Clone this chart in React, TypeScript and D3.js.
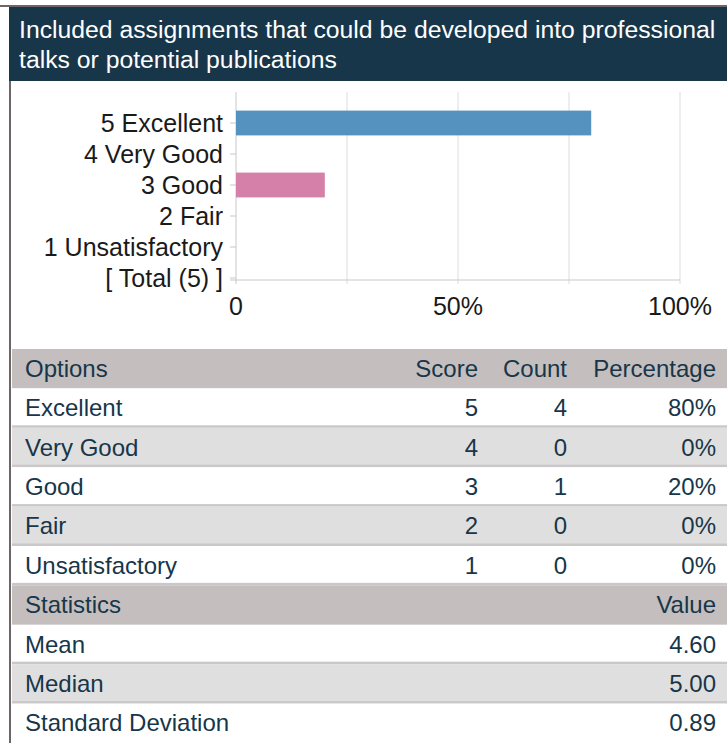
import { useEffect, useRef } from "react";
import * as d3 from "d3";

// chart values
const titleLines = [
  "Included assignments that could be developed into professional",
  "talks or potential publications",
];
const categories = [
  "5 Excellent",
  "4 Very Good",
  "3 Good",
  "2 Fair",
  "1 Unsatisfactory",
  "[ Total (5) ]",
];
const barPercent = [80, 0, 20, 0, 0, 0];
const barColors = ["#5592bf", "#7fb069", "#d580a8", "#e8a34f", "#b75d5d", "#ffffff"];
const xTicks = [0, 50, 100];
const xGrid = [0, 25, 50, 75, 100];

const options = ["Excellent", "Very Good", "Good", "Fair", "Unsatisfactory"];
const scores = [5, 4, 3, 2, 1];
const counts = [4, 0, 1, 0, 0];
const percents = [80, 0, 20, 0, 0];

const statNames = ["Mean", "Median", "Standard Deviation"];
const statValues = [4.6, 5.0, 0.89];

const W = 727;
const H = 743;
const NAVY = "#17364a";
const TEXT = "#17364a";
const FONT = "Arial, 'Liberation Sans', sans-serif";

const App = () => {
  const ref = useRef<SVGSVGElement>(null);

  useEffect(() => {
    if (!ref.current) return;
    const svg = d3.select(ref.current);
    svg.selectAll("*").remove();

    // frame
    svg.append("rect").attr("x", 0).attr("y", 0).attr("width", W).attr("height", H).attr("fill", "#fff");
    svg.append("rect").attr("x", 9).attr("y", 5).attr("width", 2).attr("height", H).attr("fill", "#6d6566");
    svg.append("rect").attr("x", 0).attr("y", 5).attr("width", W).attr("height", 2).attr("fill", "#6d6566");
    svg.append("rect").attr("x", 9).attr("y", 7).attr("width", W - 9).attr("height", 74).attr("fill", NAVY);

    svg
      .append("g")
      .selectAll("text")
      .data(titleLines)
      .join("text")
      .attr("x", 19)
      .attr("y", (_d, i) => 38 + i * 30)
      .attr("fill", "#fff")
      .attr("font-family", FONT)
      .attr("font-size", 24.75)
      .text((d) => d);

    // bar chart
    const x = d3.scaleLinear().domain([0, 100]).range([236, 680]);
    const y = d3
      .scaleBand<string>()
      .domain(categories)
      .range([107.5, 293.5])
      .paddingInner(0.2)
      .paddingOuter(0.1);
    const plotTop = 92;
    const axisY = 280;

    const chart = svg.append("g");
    chart
      .append("g")
      .selectAll("line")
      .data(xGrid)
      .join("line")
      .attr("x1", (d) => x(d))
      .attr("x2", (d) => x(d))
      .attr("y1", plotTop)
      .attr("y2", axisY + 4)
      .attr("stroke", (d) => (d === 0 ? "#c8c8c8" : "#dddddd"))
      .attr("stroke-width", 1);

    chart
      .append("line")
      .attr("x1", 230)
      .attr("x2", x(100))
      .attr("y1", axisY)
      .attr("y2", axisY)
      .attr("stroke", "#c8c8c8");

    chart
      .append("g")
      .selectAll("line")
      .data(categories)
      .join("line")
      .attr("x1", 230)
      .attr("x2", x(0))
      .attr("y1", (d) => y(d)! + y.bandwidth() / 2)
      .attr("y2", (d) => y(d)! + y.bandwidth() / 2)
      .attr("stroke", "#c8c8c8");

    chart
      .append("g")
      .selectAll("rect")
      .data(categories)
      .join("rect")
      .attr("x", x(0))
      .attr("y", (d) => y(d)!)
      .attr("width", (_d, i) => x(barPercent[i]) - x(0))
      .attr("height", y.bandwidth())
      .attr("fill", (_d, i) => barColors[i]);

    chart
      .append("g")
      .selectAll("text")
      .data(categories)
      .join("text")
      .attr("x", 223)
      .attr("y", (d) => y(d)! + y.bandwidth() / 2 + 8.5)
      .attr("text-anchor", "end")
      .attr("fill", "#1a1a1a")
      .attr("font-family", FONT)
      .attr("font-size", 25)
      .text((d) => d);

    chart
      .append("g")
      .selectAll("text")
      .data(xTicks)
      .join("text")
      .attr("x", (d) => x(d))
      .attr("y", 315)
      .attr("text-anchor", "middle")
      .attr("fill", "#1a1a1a")
      .attr("font-family", FONT)
      .attr("font-size", 25)
      .text((d) => (d === 0 ? "0" : `${d}%`));

    // tables
    const rowH = 39.4;
    const tableTop = 349;
    const left = 12;
    type Row = { cells: string[]; kind: "head" | "odd" | "even" };
    const rows: Row[] = [];
    rows.push({ cells: ["Options", "Score", "Count", "Percentage"], kind: "head" });
    options.forEach((o, i) =>
      rows.push({
        cells: [o, String(scores[i]), String(counts[i]), `${percents[i]}%`],
        kind: i % 2 === 0 ? "odd" : "even",
      }),
    );
    rows.push({ cells: ["Statistics", "", "", "Value"], kind: "head" });
    statNames.forEach((s, i) =>
      rows.push({
        cells: [s, "", "", statValues[i].toFixed(2)],
        kind: i % 2 === 0 ? "odd" : "even",
      }),
    );

    const colX = [25, 478, 567, 716];
    const fills = { head: "#c4bebe", odd: "#ffffff", even: "#e0dfdf" };
    const table = svg.append("g");
    rows.forEach((r, i) => {
      const top = tableTop + i * rowH;
      table
        .append("rect")
        .attr("x", left)
        .attr("y", top)
        .attr("width", W - left)
        .attr("height", rowH)
        .attr("fill", fills[r.kind]);
      if (r.kind !== "head" && i < rows.length - 1) {
        table
          .append("rect")
          .attr("x", left)
          .attr("y", top + rowH - 2.5)
          .attr("width", W - left)
          .attr("height", 2.5)
          .attr("fill", "#c9c7c7");
      }
      r.cells.forEach((c, j) => {
        if (!c) return;
        table
          .append("text")
          .attr("x", colX[j])
          .attr("y", top + rowH / 2 + 8)
          .attr("text-anchor", j === 0 ? "start" : "end")
          .attr("fill", TEXT)
          .attr("font-family", FONT)
          .attr("font-size", 24)
          .text(c);
      });
    });
  }, []);

  return (
    <svg
      ref={ref}
      width={W}
      height={H}
      style={{ position: "absolute", left: 0, top: 0 }}
    />
  );
};

export default App;
